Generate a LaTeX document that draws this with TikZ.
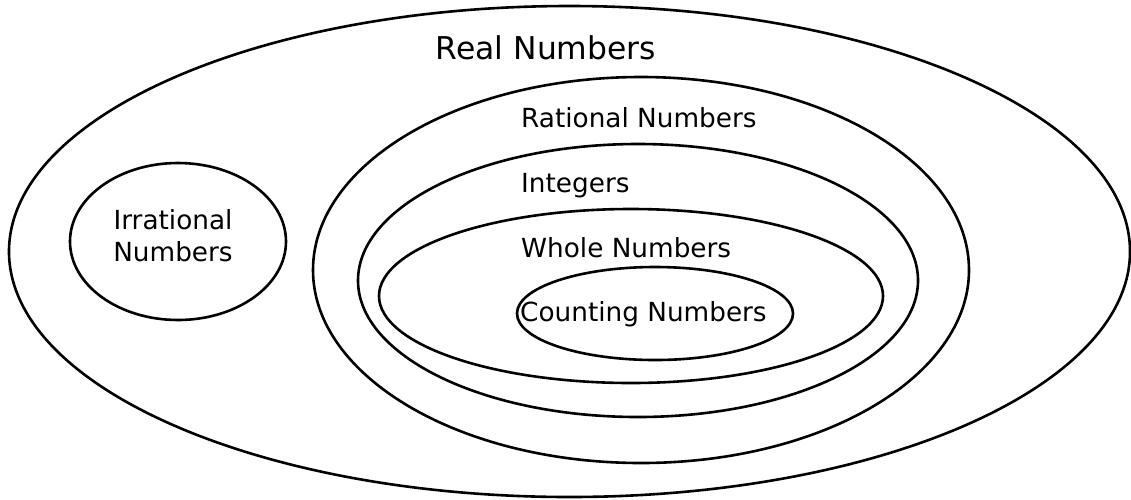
\documentclass[tikz,border=0pt]{standalone}
\usepackage{fontspec}
\setmainfont{DejaVu Sans}
\usetikzlibrary{shapes.geometric}
\tikzset{
  setring/.style = {draw=black, ellipse, line width=2.6pt, inner sep=0pt},
  setname/.style = {font=\fontsize{26.3}{32}\selectfont, inner sep=0pt},
  bigname/.style = {font=\fontsize{31.4}{36}\selectfont, inner sep=0pt}
}

\begin{document}
\begin{tikzpicture}[x=1pt, y=-1pt]
  \useasboundingbox (0,0) rectangle (1131,499);
  % the nested sets
  \node[setring, minimum width=1121pt, minimum height=491pt] (real)  at (569.5,251.5) {};
  \node[setring, minimum width=216pt,  minimum height=157pt] (irrat) at (178,241.5)   {};
  \node[setring, minimum width=656pt,  minimum height=386pt] (rat)   at (641,270)     {};
  \node[setring, minimum width=560pt,  minimum height=273pt] (intg)  at (638,280.5)   {};
  \node[setring, minimum width=504pt,  minimum height=174pt] (whole) at (631,296)     {};
  \node[setring, minimum width=276pt,  minimum height=93pt]  (count) at (655,313.5)   {};
  % their names
  \node[bigname, anchor=base]      (realtxt)  at (546,59)  {Real Numbers};
  \node[setname, align=center]     (irrattxt) at (173,236) {Irrational\\Numbers};
  \node[setname, anchor=base west] (rattxt)   at (521,127) {Rational Numbers};
  \node[setname, anchor=base west] (intgtxt)  at (521,192) {Integers};
  \node[setname, anchor=base west] (wholetxt) at (521,257) {Whole Numbers};
  \node[setname, anchor=base west] (counttxt) at (520,321) {Counting Numbers};
\end{tikzpicture}
\end{document}
